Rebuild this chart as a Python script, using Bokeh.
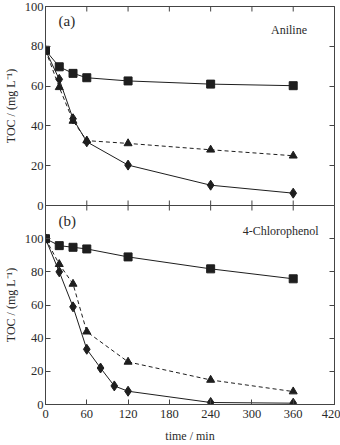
import math
from bokeh.plotting import figure
from bokeh.layouts import column
from bokeh.models import LinearAxis, FixedTicker, Range1d, Label
from bokeh.embed import file_html
from bokeh.resources import INLINE

# ---- data (a) Aniline ----
a_t_sq = [0, 20, 40, 60, 120, 240, 360]
a_sq = [78, 69.7, 66.4, 64.2, 62.6, 61.0, 60.2]
a_t_tri = [0, 20, 40, 60, 120, 240, 360]
a_tri = [78, 59.4, 42.5, 32.6, 31.2, 28.0, 25.0]
a_t_dia = [0, 20, 40, 60, 120, 240, 360]
a_dia = [78, 63.4, 43.6, 32.0, 20.3, 10.2, 6.2]

# ---- data (b) 4-Chlorophenol ----
b_t_sq = [0, 20, 40, 60, 120, 240, 360]
b_sq = [100, 95.8, 94.8, 93.8, 89.0, 81.8, 75.8]
b_t_tri = [0, 20, 40, 60, 120, 240, 360]
b_tri = [100, 84.6, 72.7, 43.9, 25.7, 14.8, 7.8]
b_t_dia = [0, 20, 40, 60, 80, 100, 120, 240, 360]
b_dia = [100, 80.0, 58.9, 33.3, 22.0, 11.2, 8.0, 1.2, 0.8]

x_ticks = [0, 60, 120, 180, 240, 300, 360, 420]
y_ticks = [0, 20, 40, 60, 80, 100]

FONT = "Liberation Serif"
INK = "#1e1e1e"
AX = "#444444"
TXT = "#2a2a2a"
ylab = "TOC / (mg L\u207b\u00b9)"


def style(p, ytop):
    p.background_fill_color = "white"
    p.outline_line_color = AX
    p.xgrid.visible = False
    p.ygrid.visible = False
    yax = p.yaxis[0]
    yax.ticker = FixedTicker(ticks=y_ticks)
    yax.major_tick_in = 5
    yax.major_tick_out = 0
    yax.minor_tick_line_color = None
    yax.axis_line_color = AX
    yax.major_tick_line_color = AX
    yax.major_label_text_font = FONT
    yax.major_label_text_font_size = "12.5px"
    yax.major_label_text_color = TXT
    yax.major_label_standoff = 2
    yax.axis_label = ylab
    yax.axis_label_text_font = FONT
    yax.axis_label_text_font_style = "normal"
    yax.axis_label_text_font_size = "12px"
    yax.axis_label_text_color = TXT
    yax.axis_label_standoff = 4
    r = LinearAxis(ticker=FixedTicker(ticks=y_ticks),
                   major_label_overrides={t: "" for t in y_ticks},
                   major_tick_in=5, major_tick_out=0, minor_tick_line_color=None,
                   axis_line_color=AX, major_tick_line_color=AX, major_label_standoff=0,
                   major_label_text_font_size="1px")
    p.add_layout(r, "right")
    # inward ticks along the top edge of the panel
    p.scatter(x_ticks[1:-1], [ytop] * (len(x_ticks) - 2), marker="dash", angle=math.pi / 2,
              size=10, line_color=AX, line_width=1)


def series(p, tsq, sq, ttr, tr, tdi, di):
    p.line(tsq, sq, line_color=INK, line_width=1)
    p.line(ttr, tr, line_color=INK, line_width=1, line_dash="4 3")
    p.line(tdi, di, line_color=INK, line_width=1)
    p.scatter(tsq, sq, marker="square", size=8, fill_color=INK, line_color=INK)
    p.scatter(ttr, tr, marker="triangle", size=8, fill_color=INK, line_color=INK)
    p.scatter(tdi, di, marker="diamond", size=10, fill_color=INK, line_color=INK)


# ---- top panel (a) ----
p1 = figure(width=340, height=212, x_range=Range1d(0, 420), y_range=Range1d(0, 100),
            output_backend="svg", toolbar_location=None, x_axis_location=None,
            min_border_left=44, min_border_right=6, min_border_top=6, min_border_bottom=7,
            margin=(0, 0, -7, 0))
p1.border_fill_color = "white"
style(p1, 100)
# inward ticks along the bottom edge (shared with panel b)
p1.scatter(x_ticks[1:-1], [0] * (len(x_ticks) - 2), marker="dash", angle=math.pi / 2,
           size=10, line_color=AX, line_width=1)
series(p1, a_t_sq, a_sq, a_t_tri, a_tri, a_t_dia, a_dia)
p1.add_layout(Label(x=19, y=92.5, text="(a)", text_font=FONT, text_font_size="15px",
                    text_baseline="middle", text_color=TXT))
p1.add_layout(Label(x=380, y=88, text="Aniline", text_font=FONT, text_font_size="12px",
                    text_baseline="middle", text_align="right", text_color=TXT))

# ---- bottom panel (b) ----
p2 = figure(width=340, height=240, x_range=Range1d(0, 420), y_range=Range1d(0, 120),
            output_backend="svg", toolbar_location=None,
            min_border_left=44, min_border_right=6, min_border_top=0, min_border_bottom=41,
            margin=(0, 0, 0, 0))
p2.border_fill_alpha = 0
style(p2, 120)
xax = p2.xaxis[0]
xax.ticker = FixedTicker(ticks=x_ticks)
xax.major_tick_in = 5
xax.major_tick_out = 0
xax.minor_tick_line_color = None
xax.axis_line_color = AX
xax.major_tick_line_color = AX
xax.major_label_text_font = FONT
xax.major_label_text_font_size = "12.5px"
xax.major_label_text_color = TXT
xax.major_label_standoff = 5
xax.axis_label = "time / min"
xax.axis_label_text_font = FONT
xax.axis_label_text_font_style = "normal"
xax.axis_label_text_font_size = "12px"
xax.axis_label_text_color = TXT
xax.axis_label_standoff = 8
series(p2, b_t_sq, b_sq, b_t_tri, b_tri, b_t_dia, b_dia)
p2.add_layout(Label(x=19, y=110.5, text="(b)", text_font=FONT, text_font_size="15px",
                    text_baseline="middle", text_color=TXT))
p2.add_layout(Label(x=397, y=104.6, text="4-Chlorophenol", text_font=FONT,
                    text_font_size="12px", text_baseline="middle", text_align="right",
                    text_color=TXT))

layout = column(p1, p2, spacing=0)
open("out.html", "w").write(file_html(layout, INLINE))
